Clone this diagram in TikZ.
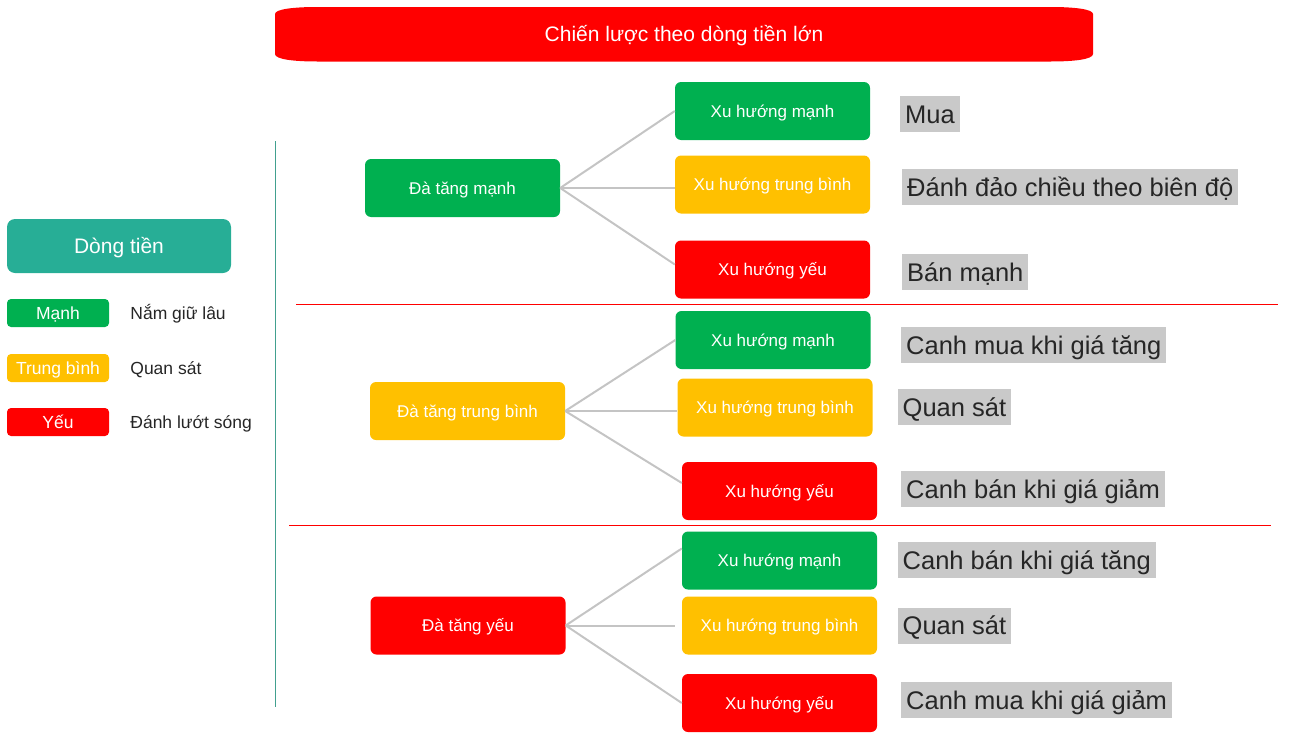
\documentclass[tikz,border=0pt]{standalone}
\usepackage{fontspec}
\setmainfont{Liberation Sans}
\usetikzlibrary{positioning}
\definecolor{mgreen}{HTML}{00B050}
\definecolor{myellow}{HTML}{FFC000}
\definecolor{mred}{HTML}{FF0000}
\definecolor{mteal}{HTML}{27AE96}
\definecolor{lblgray}{HTML}{C9C9C9}
\definecolor{linkgray}{HTML}{C4C4C4}
\definecolor{txtdark}{HTML}{262626}

\begin{document}
\begin{tikzpicture}[x = 1pt, y = -1pt]
% styles of boxes
\tikzset{box/.style={rounded corners=6pt,inner sep=0pt,text=white,
                     minimum width=195pt,minimum height=58pt,
                     font=\fontsize{17}{20}\selectfont,text height=12.2pt,text depth=0pt},
         boxg/.style={box,fill=mgreen},
         boxy/.style={box,fill=myellow},
         boxr/.style={box,fill=mred},
         legbox/.style={rounded corners=4pt,inner sep=0pt,text=white,
                     minimum width=102pt,minimum height=28pt,
                     font=\fontsize{17.5}{20}\selectfont,text height=12.5pt,text depth=0pt},
         leglbl/.style={inner sep=0pt,text=txtdark,font=\fontsize{17.5}{20}\selectfont,
                     text height=12.5pt,text depth=0pt},
         result/.style={fill=lblgray,text=txtdark,anchor=west,inner xsep=5pt,inner ysep=0pt,
                     minimum height=36pt,font=\fontsize{25.5}{30}\selectfont,
                     text height=18.3pt,text depth=0pt},
         link/.style={draw=linkgray,line width=2pt},
         sepline/.style={draw=mred,line width=1pt}}
\useasboundingbox (0,0) rectangle (1291,744);

%banner
\fill[mred] (275,14) .. controls (275,9) and (295,7) .. (317,7) -- (1051,7)
  .. controls (1073,7) and (1093,9) .. (1093,14) -- (1093,54)
  .. controls (1093,59.5) and (1073,61.5) .. (1051,61.5) -- (317,61.5)
  .. controls (295,61.5) and (275,59.5) .. (275,54) -- cycle;
\node[inner sep=0pt,text=white,font=\fontsize{21}{24}\selectfont,text height=15pt,text depth=0pt]
  (title) at (684,34) {Chiến lược theo dòng tiền lớn};

%legend
\node[legbox,fill=mteal,minimum width=224pt,minimum height=54pt,rounded corners=8pt,
      font=\fontsize{21}{24}\selectfont,text height=15pt] (flow) at (119,246) {Dòng tiền};
\node[legbox,fill=mgreen] (lm) at (58,313) {Mạnh};
\node[legbox,fill=myellow] (ly) at (58,368) {Trung bình};
\node[legbox,fill=mred] (lr) at (58,422) {Yếu};
\node[leglbl,right=21pt of lm] (lmt) {Nắm giữ lâu};
\node[leglbl,right=21pt of ly] (lyt) {Quan sát};
\node[leglbl,right=21pt of lr] (lrt) {Đánh lướt sóng};

%dividers
\draw[draw=mteal!70!gray,line width=1pt] (275,141) -- (275,707);
\draw[sepline] (296,304) -- (1278,304);
\draw[sepline] (289,525) -- (1271,525);

%group 1
\node[boxg] (p1) at (462.5,188) {Đà tăng mạnh};
\node[boxg] (c11) at (772.5,111) {Xu hướng mạnh};
\node[boxy] (c12) at (772.5,184.5) {Xu hướng trung bình};
\node[boxr] (c13) at (772.5,269.5) {Xu hướng yếu};
\node[result] (r11) at (900,114) {Mua};
\node[result] (r12) at (902,187) {Đánh đảo chiều theo biên độ};
\node[result] (r13) at (902,272) {Bán mạnh};

%group 2
\node[boxy] (p2) at (467.5,411) {Đà tăng trung bình};
\node[boxg] (c21) at (773,340) {Xu hướng mạnh};
\node[boxy] (c22) at (775,407.5) {Xu hướng trung bình};
\node[boxr] (c23) at (779.5,491) {Xu hướng yếu};
\node[result] (r21) at (901,345) {Canh mua khi giá tăng};
\node[result] (r22) at (897.5,407) {Quan sát};
\node[result] (r23) at (901,489) {Canh bán khi giá giảm};

%group 3
\node[boxr] (p3) at (468,625.5) {Đà tăng yếu};
\node[boxg] (c31) at (779.5,560.5) {Xu hướng mạnh};
\node[boxy] (c32) at (779.5,625.5) {Xu hướng trung bình};
\node[boxr] (c33) at (779.5,703) {Xu hướng yếu};
\node[result] (r31) at (897.5,560) {Canh bán khi giá tăng};
\node[result] (r32) at (897.5,625.5) {Quan sát};
\node[result] (r33) at (901,700) {Canh mua khi giá giảm};
\coordinate (e32) at (675,625.5);

%links
\draw[link] (p1.east) -- (c11.west);
\draw[link] (p1.east) -- (p1.east -| c12.west);
\draw[link] (p1.east) -- ([yshift=5pt]c13.west);
\draw[link] (p2.east) -- (c21.west);
\draw[link] (p2.east) -- (p2.east -| c22.west);
\draw[link] (p2.east) -- ([yshift=8pt]c23.west);
\draw[link] (p3.east) -- ([yshift=12pt]c31.west);
\draw[link] (p3.east) -- (e32);
\draw[link] (p3.east) -- (c33.west);
\end{tikzpicture}
\end{document}
